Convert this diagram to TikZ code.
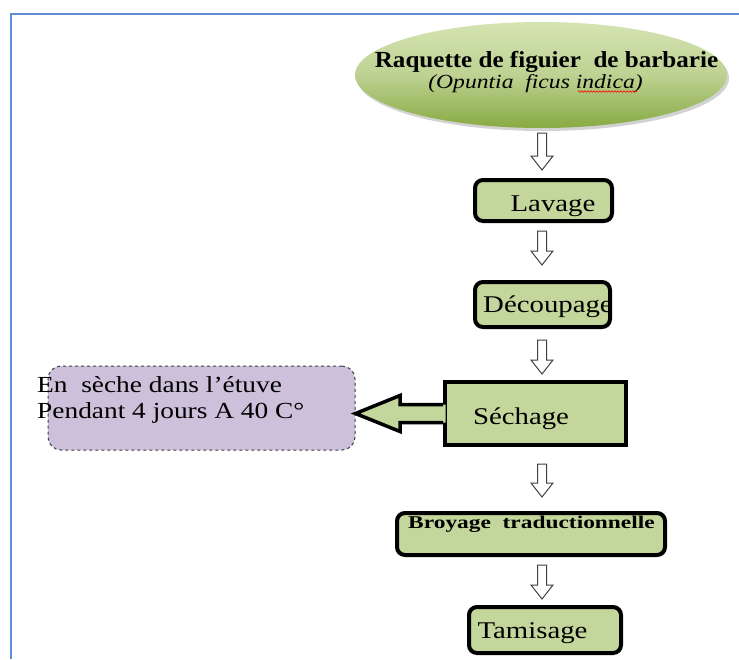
\documentclass[tikz,border=0pt]{standalone}
\usepackage{fontspec}
\usepackage{graphicx}
\setmainfont{Liberation Serif}
\usetikzlibrary{shapes.geometric,shadows,calc,decorations.pathmorphing}
\definecolor{boxgreen}{HTML}{C3D69B}
\definecolor{elltop}{HTML}{D4E4B2}
\definecolor{ellbot}{HTML}{88AA42}
\definecolor{lilac}{HTML}{CCC0DA}
\definecolor{frameblue}{HTML}{5B8ED6}
\newcommand{\hs}[2]{\scalebox{#1}[1]{#2}}
\newcommand{\hollowdown}[2]{%
  \draw[hollow] let \p0=(axis), \p1=#1, \p2=#2 in
  (\x0-4.5pt,\y1) -- (\x0+4.5pt,\y1) -- (\x0+4.5pt,\y2+14pt) -- (\x0+11pt,\y2+14pt)
  -- (\x0,\y2) -- (\x0-11pt,\y2+14pt) -- (\x0-4.5pt,\y2+14pt) -- cycle;}
\begin{document}
\begin{tikzpicture}[x=1pt,y=-1pt,
  stepbox/.style={draw=black, line width=4pt, fill=boxgreen, rounded corners=8pt, inner sep=0pt},
  squarebox/.style={draw=black, line width=4pt, fill=boxgreen, inner sep=0pt},
  notebox/.style={draw=black!75, dashed, line width=1pt, fill=lilac, rounded corners=13pt, inner sep=0pt},
  hollow/.style={draw=black!75, line width=1pt, fill=white, line join=miter},
  txt/.style={anchor=base, inner sep=0pt, text=black, font=\fontsize{24}{28}\selectfont},
  notetxt/.style={anchor=base west, inner sep=0pt, text=black, font=\fontsize{23}{26}\selectfont}
]
\useasboundingbox (0,0) rectangle (739,659);
\fill[white] (0,0) rectangle (739,659);
\draw[frameblue, line width=2.5pt] (11,659) -- (11,14) -- (739,14);

\coordinate (axis) at (542,0);

% ellipse
\node[ellipse, minimum width=372pt, minimum height=106pt, inner sep=0pt,
      top color=elltop, bottom color=ellbot, middle color=boxgreen!90!ellbot,
      drop shadow={shadow xshift=2pt, shadow yshift=-3pt, opacity=0.35}] (ell) at (541,75) {};
\node[txt, font=\fontsize{23}{27}\selectfont\bfseries] (ellT1) at (546.5,67) {\hs{1.09}{Raquette de figuier~~de barbarie}};
\node[txt, font=\fontsize{20}{24}\selectfont\itshape] (ellT2) at (535.5,88) {\hs{1.18}{(Opuntia~~ficus indica)}};
\draw[red, line width=0.6pt, decorate, decoration={snake, amplitude=0.8pt, segment length=3pt}] (578,91.5) -- (637,91.5);

% boxes
\node[stepbox, minimum width=137pt, minimum height=41pt] (lav) at (543.5,200.5) {};
\node[txt] (lavT) at (553,211) {\hs{1.2}{Lavage}};

\node[stepbox, minimum width=135pt, minimum height=45pt] (dec) at (542.5,304.5) {};
\node[txt] (decT) at (548,312) {\hs{1.2}{Découpage}};

\node[squarebox, minimum width=181pt, minimum height=63pt] (sech) at (535.5,413.5) {};
\node[txt] (sechT) at (521,424) {\hs{1.2}{Séchage}};

\node[notebox, minimum width=307pt, minimum height=84pt] (note) at (201.5,408) {};
\node[notetxt] (noteT1) at (37,392) {\hs{1.19}{En~~sèche dans l’étuve}};
\node[notetxt] (noteT2) at (37,418) {\hs{1.19}{Pendant 4 jours A 40 C°}};

\node[stepbox, minimum width=268pt, minimum height=42pt] (bro) at (531,534) {};
\node[txt, font=\fontsize{18}{22}\selectfont\bfseries] (broT) at (531.5,528) {\hs{1.3}{Broyage~~traductionnelle}};

\node[stepbox, minimum width=152pt, minimum height=46pt] (tam) at (545,630) {};
\node[txt] (tamT) at (532.5,638) {\hs{1.2}{Tamisage}};

% side block arrow from Séchage to note
\fill[boxgreen] let \p1=(sech.west), \p2=(note.east) in
  (\x1+2.5pt,\y1+9pt) -- (\x1-43pt,\y1+9pt) -- (\x1-43pt,\y1+18pt) -- (\x2,\y1)
  -- (\x1-43pt,\y1-18pt) -- (\x1-43pt,\y1-9pt) -- (\x1+2.5pt,\y1-9pt) -- cycle;
\draw[black, line width=3.5pt, line join=miter] let \p1=(sech.west), \p2=(note.east) in
  (\x1,\y1+9pt) -- (\x1-43pt,\y1+9pt) -- (\x1-43pt,\y1+18pt) -- (\x2,\y1)
  -- (\x1-43pt,\y1-18pt) -- (\x1-43pt,\y1-9pt) -- (\x1,\y1-9pt);

% hollow down arrows
\hollowdown{($(ell.south)+(0,-5pt)$)}{($(lav.north)+(0,8pt)$)}
\hollowdown{($(lav.south)+(0,-8pt)$)}{($(dec.north)+(0,15pt)$)}
\hollowdown{($(dec.south)+(0,-11pt)$)}{($(sech.north)+(0,6pt)$)}
\hollowdown{($(sech.south)+(0,-17pt)$)}{($(bro.north)+(0,14pt)$)}
\hollowdown{($(bro.south)+(0,-8pt)$)}{($(tam.north)+(0,6pt)$)}
\end{tikzpicture}
\end{document}
